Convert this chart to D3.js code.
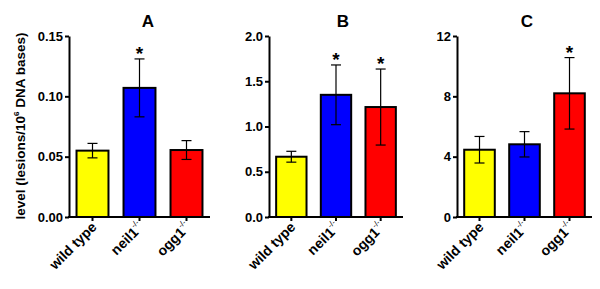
<!DOCTYPE html>
<meta charset="utf-8" />
<title>Lesion levels</title>
<style>
  body { margin: 0; background: #fff; }
  svg { font-family: "Liberation Sans", Arial, sans-serif; font-weight: bold; }
  .axis path, .axis line { stroke: #000; stroke-width: 2px; }
  .axis text { font-size: 13px; font-weight: bold; fill: #000; }
  .bar { stroke: #000; stroke-width: 2px; }
  .err { stroke: #000; stroke-width: 1.2px; }
</style>
<body>
<svg width="600" height="289"></svg>
<script src="https://d3js.org/d3.v7.min.js"></script>
<script>
  const genotypes = ["wild type", "neil1", "ogg1"];
  const colors = ["#ffff00", "#0000ff", "#ff0000"];

  const titles = ["A", "B", "C"];
  const meansA = [0.055, 0.107, 0.0555];
  const errsA = [0.006, 0.024, 0.0078];
  const meansB = [0.666, 1.35, 1.215];
  const errsB = [0.06, 0.33, 0.42];
  const meansC = [4.46, 4.82, 8.2];
  const errsC = [0.88, 0.84, 2.37];
  const starsA = [false, true, false];
  const starsB = [false, true, true];
  const starsC = [false, false, true];
  const ticksA = [0, 0.05, 0.10, 0.15];
  const ticksB = [0, 0.5, 1.0, 1.5, 2.0];
  const ticksC = [0, 4, 8, 12];

  const panels = [
    { title: titles[0], means: meansA, errs: errsA, stars: starsA, ticks: ticksA, max: 0.15, fmt: d3.format(".2f"), x0: 69, x1: 210, tx: 148 },
    { title: titles[1], means: meansB, errs: errsB, stars: starsB, ticks: ticksB, max: 2.0, fmt: d3.format(".1f"), x0: 269, x1: 403, tx: 343 },
    { title: titles[2], means: meansC, errs: errsC, stars: starsC, ticks: ticksC, max: 12, fmt: d3.format("d"), x0: 457, x1: 592, tx: 527 }
  ];

  const svg = d3.select("svg");
  const yTop = 36, yBot = 217;

  panels.forEach(p => {
    const x = d3.scaleBand().domain(genotypes).range([p.x0, p.x1]).paddingInner(0.32).paddingOuter(0.16);
    const y = d3.scaleLinear().domain([0, p.max]).range([yBot, yTop]);
    const g = svg.append("g");
    const rows = genotypes.map((d, i) => ({ name: d, mean: p.means[i], err: p.errs[i], star: p.stars[i], color: colors[i] }));

    g.selectAll("rect.bar")
      .data(rows)
      .join("rect")
      .attr("class", "bar")
      .attr("x", d => x(d.name))
      .attr("width", x.bandwidth())
      .attr("y", d => y(d.mean))
      .attr("height", d => yBot - y(d.mean))
      .attr("fill", d => d.color);

    const eg = g.selectAll("g.errbar")
      .data(rows)
      .join("g")
      .attr("transform", d => `translate(${x(d.name) + x.bandwidth() / 2},0)`);
    eg.append("line").attr("class", "err")
      .attr("y1", d => y(d.mean + d.err))
      .attr("y2", d => y(d.mean - d.err));
    eg.append("line").attr("class", "err")
      .attr("x1", -5).attr("x2", 5)
      .attr("y1", d => y(d.mean + d.err))
      .attr("y2", d => y(d.mean + d.err));
    eg.append("line").attr("class", "err")
      .attr("x1", -5).attr("x2", 5)
      .attr("y1", d => y(d.mean - d.err))
      .attr("y2", d => y(d.mean - d.err));
    eg.filter(d => d.star).append("text")
      .attr("text-anchor", "middle")
      .attr("y", d => y(d.mean + d.err) + 1)
      .attr("font-size", 19)
      .text("*");

    g.append("g").attr("class", "axis")
      .attr("transform", `translate(${p.x0},0)`)
      .call(d3.axisLeft(y).tickValues(p.ticks).tickFormat(p.fmt).tickSize(4).tickSizeOuter(0).tickPadding(2));

    const xAxis = g.append("g").attr("class", "axis")
      .attr("transform", `translate(0,${yBot})`)
      .call(d3.axisBottom(x).tickSize(4).tickSizeOuter(0).tickFormat(""));
    xAxis.select(".domain").attr("d", `M${p.x0 - 1},0H${p.x1}`);

    const lbl = g.selectAll("text.xl")
      .data(genotypes)
      .join("text")
      .attr("class", "xl")
      .attr("font-size", 14)
      .attr("text-anchor", "end")
      .attr("transform", d => `translate(${x(d) + x.bandwidth() / 2 + 5},${yBot + 11}) rotate(-45)`);
    lbl.append("tspan").text(d => d);
    lbl.filter(d => d !== "wild type").append("tspan")
      .attr("font-size", 8).attr("font-weight", "normal").attr("dy", -7).text("-/-");

    g.append("text")
      .attr("x", p.tx).attr("y", 27)
      .attr("text-anchor", "middle")
      .attr("font-size", 17)
      .text(p.title);
  });

  const yl = svg.append("text")
    .attr("transform", "translate(25,126) rotate(-90)")
    .attr("text-anchor", "middle")
    .attr("font-size", 13.5);
  yl.append("tspan").text("level (lesions/10");
  yl.append("tspan").attr("font-size", 8).attr("dy", -6).text("6");
  yl.append("tspan").attr("dy", 6).text(" DNA bases)");
</script>
</body>
